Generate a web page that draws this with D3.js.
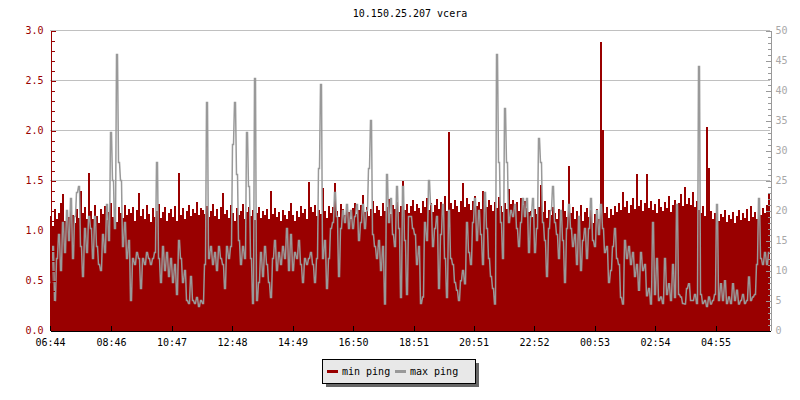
<!DOCTYPE html>
<html>
<head>
<meta charset="utf-8">
<script src="https://cdn.jsdelivr.net/npm/d3@7"></script>
<style>
body { margin: 0; background: #fff; }
text { font-family: "DejaVu Sans Mono", monospace; font-size: 10px; }
</style>
</head>
<body>
<svg id="chart" width="800" height="400"></svg>
<script>
var TITLE = '10.150.25.207 vcera';
var START = '06:44';
var STEP_MINUTES = 4;
var SPAN_MINUTES = 1440;
var TIME_LABELS = ['06:44', '08:46', '10:47', '12:48', '14:49', '16:50', '18:51', '20:51', '22:52', '00:53', '02:54', '04:55'];
var LEFT_LABELS = [0.0, 0.5, 1.0, 1.5, 2.0, 2.5, 3.0];
var LEFT_MINOR = 0.1;
var RIGHT_LABELS = [0, 5, 10, 15, 20, 25, 30, 35, 40, 45, 50];
var RIGHT_MINOR = 1;
var SERIES = ['min ping', 'max ping'];

// min ping, left axis
var MIN_PING = [
  1.15,1.05,1.22,1.12,1.18,1.28,1.37,1.10,1.20,1.14,1.25,1.16,1.08,1.22,1.13,1.40,1.18,1.24,1.12,1.58,
  1.20,1.12,1.26,1.15,1.08,1.22,1.17,1.25,1.11,1.19,1.28,1.14,1.21,1.09,1.24,1.18,1.13,1.26,1.16,1.22,
  1.18,1.24,1.10,1.21,1.38,1.15,1.22,1.12,1.26,1.17,1.09,1.23,1.14,1.20,1.27,1.13,1.19,1.24,1.10,1.18,
  1.22,1.14,1.25,1.10,1.58,1.16,1.23,1.12,1.20,1.26,1.15,1.22,1.18,1.29,1.16,1.23,1.21,1.17,1.25,1.14,
  1.20,1.27,1.15,1.22,1.12,1.24,1.38,1.17,1.21,1.13,1.26,1.18,1.10,1.23,1.16,1.20,1.27,1.12,1.19,1.24,
  1.15,1.21,1.11,1.18,1.24,1.13,1.20,1.16,1.22,1.12,1.40,1.17,1.23,1.14,1.19,1.10,1.21,1.16,1.12,1.20,
  1.28,1.16,1.10,1.20,1.14,1.25,1.18,1.22,1.12,1.49,1.24,1.19,1.26,1.15,1.21,1.17,1.43,1.20,1.13,1.25,
  1.18,1.24,1.48,1.20,1.14,1.27,1.22,1.16,1.25,1.19,1.12,1.23,1.28,1.17,1.21,1.26,1.36,1.19,1.24,1.15,
  1.22,1.30,1.18,1.25,1.21,1.15,1.28,1.20,1.24,1.32,1.17,1.26,1.22,1.29,1.19,1.25,1.50,1.21,1.27,1.18,
  1.25,1.31,1.20,1.27,1.23,1.18,1.30,1.24,1.33,1.21,1.28,1.19,1.26,1.32,1.22,1.29,1.24,1.35,1.20,1.99,
  1.28,1.22,1.31,1.25,1.19,1.30,1.48,1.24,1.33,1.27,1.21,1.30,1.35,1.25,1.29,1.22,1.40,1.28,1.24,1.31,
  1.26,1.20,1.29,1.23,1.34,1.25,1.19,1.28,1.22,1.42,1.27,1.31,1.24,1.29,1.20,1.33,1.26,1.30,1.23,1.19,
  1.20,1.14,1.22,1.17,1.24,1.46,1.19,1.30,1.13,1.21,1.16,1.24,1.18,1.12,1.22,1.17,1.31,1.20,1.14,1.65,
  1.18,1.24,1.12,1.20,1.15,1.26,1.10,1.19,1.23,1.14,1.21,1.08,1.17,1.22,1.12,2.89,2.01,1.18,1.24,1.13,
  1.22,1.16,1.25,1.19,1.28,1.21,1.39,1.24,1.30,1.18,1.26,1.33,1.22,1.57,1.25,1.31,1.20,1.28,1.57,1.23,
  1.30,1.21,1.27,1.18,1.32,1.24,1.20,1.29,1.23,1.35,1.19,1.26,1.31,1.22,1.28,1.37,1.25,1.44,1.27,1.33,
  1.26,1.39,1.24,1.30,1.21,1.18,1.25,1.15,2.04,1.63,1.20,1.12,1.18,1.22,1.10,1.17,1.14,1.21,1.09,1.16,
  1.12,1.19,1.08,1.15,1.21,1.11,1.18,1.13,1.22,1.10,1.25,1.14,1.19,1.12,1.20,1.16,1.23,1.18,1.26,1.37
];

// max ping, right axis
var MAX_PING = [
  8,14,5,12,16,10,18,13,20,15,22,12,19,23,24,14,9,17,13,19,
  17,12,19,14,11,10,16,13,21,15,33,25,17,46,28,25,14,18,12,15,
  5,12,11,13,12,7,12,11,13,12,11,12,13,28,12,8,14,10,13,9,
  12,8,11,6,15,12,8,10,5,4.5,9,5,4.5,5.5,4,5,4.5,11,38,12,
  14,11,13,10,14,12,11,7,14,12,14,31,38,26,15,11,14,12,33,24,
  12,4.5,42,5,8,13,9,14,11,8,5.5,12,15,10,13,11,14,12,17,10,
  16,10,13,12,15,11,8,12,11,12,13,11,8,12,27,41,12,15,7,12,
  17,18,23,19,9,17,20,18,21,17,20,17,19,21,15,18,21,17,20,27,
  35,16,14,12,15,10,14,4.4,26,18,22,16,14,24,17,5.5,24,15,6,19,
  19,17,16,11,14,4.5,5.6,18,15,25,21,14,17,19,7,16,21,12,5.5,20,
  12,11,8,6.7,5,8.3,10,7.8,18,13,11,18,22,15,20,16,11,23,17,12,
  9,7,4.4,46,28,18,12,37,28,18,20,19,21,17,14,18,22,19,22,13,
  19,22,13,17,32,28,18,15,9,17,20,24,18,16,12,20,15,8,17,21,
  17,14,16,11,19,10,15,17,12,17,22,15,14,20,16,21,17,13,14,8,
  10,14,17,12,11,5.5,4.4,15,12,14,11,13,9,11,6.7,13,10,11,5.8,7,
  4.4,18,6,12,5,5.6,4.5,12,6,7.8,5,11,5.5,21,6,5.6,4.5,4.4,7,7.8,
  5,5,6,4.5,44,6,4.5,5,4,5.6,4.4,5,6,21,5,7.8,5,8.3,4.5,5.6,
  4.5,7.8,5,6.7,4.4,5,6,4.5,5,8.9,5,5.6,6,11,22,12,11,13,11,13
];

var RED = '#990000';
var GRAY = '#999999';

var svg = d3.select('#chart');
var parseTime = d3.timeParse('%H:%M');
var t0 = parseTime(START);
var t1 = d3.timeMinute.offset(t0, SPAN_MINUTES);

// labels run past midnight, so push those into the next day
var tickDates = [];
TIME_LABELS.forEach(function (s) {
  var d = parseTime(s);
  if (d < t0) d = d3.timeDay.offset(d, 1);
  tickDates.push(d);
});

var x = d3.scaleTime().domain([t0, t1]).range([50, 770]);
var yLeft = d3.scaleLinear().domain([0, 3]).range([330.5, 30.5]);
var yRight = d3.scaleLinear().domain([0, 50]).range([330.5, 30.5]);

function toPoints (values) {
  return values.map(function (v, i) {
    return { t: d3.timeMinute.offset(t0, i * STEP_MINUTES), v: v };
  });
}

var minPts = toPoints(MIN_PING);
minPts.push({ t: t1, v: MIN_PING[MIN_PING.length - 1] });

// each sample holds its value over its first pixel, then the line
// jumps to the next sample over the second pixel (rrd-like look)
var maxPts = [];
toPoints(MAX_PING).forEach(function (d) {
  maxPts.push({ t: d.t, v: d.v });
  maxPts.push({ t: d3.timeMinute.offset(d.t, STEP_MINUTES / 2), v: d.v });
});

// grid
svg.append('g')
  .selectAll('line')
  .data(LEFT_LABELS.filter(function (d) { return d > 0; }))
  .enter()
    .append('line')
    .attr('x1', x.range()[0])
    .attr('x2', x.range()[1])
    .attr('y1', function (d) { return yLeft(d); })
    .attr('y2', function (d) { return yLeft(d); })
    .attr('stroke', '#c0c0c0')
    .attr('shape-rendering', 'crispEdges');

// min ping area
var area = d3.area()
  .curve(d3.curveStepAfter)
  .x(function (d) { return x(d.t); })
  .y0(yLeft(0))
  .y1(function (d) { return yLeft(d.v); });

svg.append('path')
  .datum(minPts)
  .attr('d', area)
  .attr('fill', RED)
  .attr('shape-rendering', 'crispEdges');

// max ping line
var line = d3.line()
  .x(function (d) { return x(d.t) + 0.5; })
  .y(function (d) { return yRight(d.v); });

svg.append('path')
  .datum(maxPts)
  .attr('d', line)
  .attr('fill', 'none')
  .attr('stroke', GRAY)
  .attr('stroke-width', 1.5)
  .attr('stroke-linejoin', 'miter')
  .attr('stroke-miterlimit', 2);

function styleAxis (g, color) {
  g.attr('font-family', '"DejaVu Sans Mono", monospace')
    .attr('font-size', 10)
    .attr('color', color);
  g.selectAll('line, path').attr('shape-rendering', 'crispEdges');
}

// left axis
var leftMinor = d3.range(0, 3 + LEFT_MINOR / 2, LEFT_MINOR);
var gLeftMinor = svg.append('g').attr('transform', 'translate(50.5,0)')
  .call(d3.axisLeft(yLeft).tickValues(leftMinor).tickSize(-4).tickSizeOuter(0).tickFormat(''));
styleAxis(gLeftMinor, RED);
var gLeft = svg.append('g').attr('transform', 'translate(50.5,0)')
  .call(d3.axisLeft(yLeft).tickValues(LEFT_LABELS).tickSize(-5).tickSizeOuter(0)
    .tickPadding(7).tickFormat(d3.format('.1f')));
styleAxis(gLeft, RED);

// right axis
var rightMinor = d3.range(0, 50 + RIGHT_MINOR / 2, RIGHT_MINOR);
var gRightMinor = svg.append('g').attr('transform', 'translate(770.5,0)')
  .call(d3.axisRight(yRight).tickValues(rightMinor).tickSize(-3).tickSizeOuter(0).tickFormat(''));
styleAxis(gRightMinor, GRAY);
var gRight = svg.append('g').attr('transform', 'translate(770.5,0)')
  .call(d3.axisRight(yRight).tickValues(RIGHT_LABELS).tickSize(-5).tickSizeOuter(0)
    .tickPadding(5).tickFormat(d3.format('d')));
styleAxis(gRight, GRAY);
gRight.selectAll('text').attr('fill', '#a8a8a8');

// bottom axis
var gBottom = svg.append('g').attr('transform', 'translate(0,330.5)')
  .call(d3.axisBottom(x).tickValues(tickDates).tickSize(-5).tickSizeOuter(0)
    .tickPadding(8).tickFormat(d3.timeFormat('%H:%M')));
styleAxis(gBottom, '#000');

// title
svg.append('text')
  .attr('x', 410)
  .attr('y', 17)
  .attr('text-anchor', 'middle')
  .attr('fill', '#000')
  .text(TITLE);

// legend
var legend = svg.append('g').attr('shape-rendering', 'crispEdges');
legend.append('rect')
  .attr('x', 326).attr('y', 363).attr('width', 153).attr('height', 24)
  .attr('fill', '#666');
legend.append('rect')
  .attr('x', 322.5).attr('y', 359.5).attr('width', 153).attr('height', 24)
  .attr('fill', '#e8e8e8').attr('stroke', '#000');

var items = legend.selectAll('g.item')
  .data(SERIES)
  .enter()
    .append('g')
    .attr('class', 'item')
    .attr('transform', function (d, i) { return 'translate(' + (327 + i * 68) + ',0)'; });
items.append('rect')
  .attr('x', 0).attr('y', 370).attr('width', 11).attr('height', 3)
  .attr('fill', function (d, i) { return i === 0 ? RED : GRAY; });
items.append('text')
  .attr('x', 15)
  .attr('y', 375)
  .attr('fill', '#000')
  .text(function (d) { return d; });
</script>
</body>
</html>
